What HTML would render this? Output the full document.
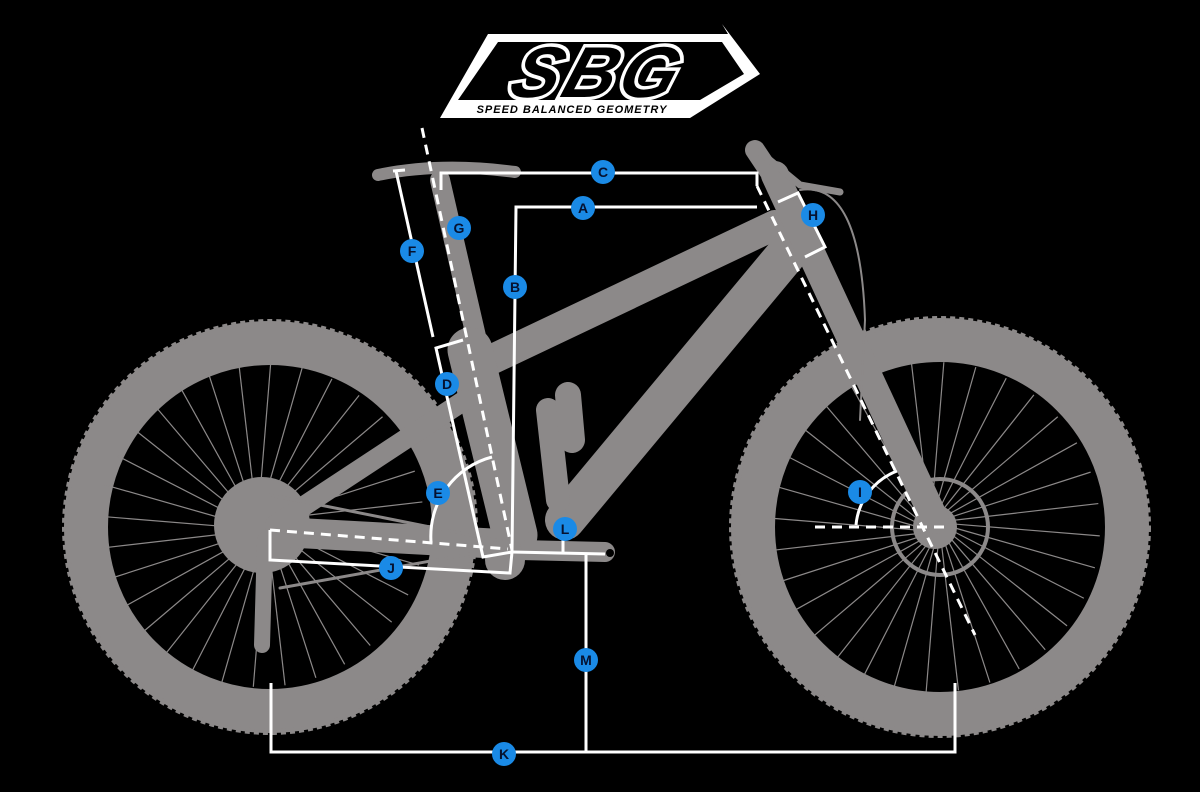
<!DOCTYPE html>
<html><head><meta charset="utf-8"><style>
html,body{margin:0;padding:0;background:#000;}
svg{display:block}
</style></head><body>
<svg id="s" width="1200" height="792" viewBox="0 0 1200 792" xmlns="http://www.w3.org/2000/svg">
<rect width="1200" height="792" fill="#000"/>
<!-- logo -->
<polygon points="488,34 728,34 722,24 760,74 690,118 440,118" fill="#fff"/>
<polygon points="498,42 722,42 744,74 700,100 458,100" fill="#000"/>
<text x="594" y="97" text-anchor="middle" font-family="Liberation Sans, sans-serif" font-weight="bold" font-style="italic" font-size="72" fill="#000" stroke="#fff" stroke-width="7" paint-order="stroke" letter-spacing="4" transform="skewX(-18) translate(28,0)">SBG</text>
<text x="572" y="113" text-anchor="middle" font-family="Liberation Sans, sans-serif" font-weight="bold" font-style="italic" font-size="11" fill="#000" letter-spacing="1">SPEED BALANCED GEOMETRY</text>

<g id="bike" fill="#8c8989" stroke="#8c8989">
 <circle cx="270" cy="527" r="184" fill="none" stroke-width="44"/>
 <circle cx="270" cy="527" r="205" fill="none" stroke-width="6" stroke-dasharray="5 4"/>
 <circle cx="940" cy="527" r="187" fill="none" stroke-width="44"/>
 <circle cx="940" cy="527" r="208" fill="none" stroke-width="6" stroke-dasharray="5 4"/>
 <g id="spk" stroke-width="1.2" fill="none"></g>
 <circle cx="262" cy="525" r="48" stroke="none"/>
 <circle cx="940" cy="527" r="48" fill="none" stroke-width="4"/>
 <circle cx="935" cy="527" r="22" stroke="none"/>
 <g stroke-linecap="round" fill="none">
  <line x1="480" y1="365" x2="775" y2="225" stroke-width="30"/>
  <line x1="790" y1="250" x2="565" y2="520" stroke-width="40"/>
  <line x1="440" y1="180" x2="478" y2="345" stroke-width="20"/>
  <line x1="470" y1="350" x2="515" y2="535" stroke-width="45"/>
  <line x1="280" y1="532" x2="520" y2="545" stroke-width="30"/>
  <line x1="275" y1="525" x2="465" y2="400" stroke-width="20"/>
  <line x1="548" y1="410" x2="558" y2="500" stroke-width="24"/>
  <line x1="568" y1="395" x2="572" y2="440" stroke-width="26"/>
  <line x1="520" y1="550" x2="605" y2="552" stroke-width="20"/>
  <line x1="775" y1="175" x2="935" y2="520" stroke-width="28"/>
  <line x1="755" y1="150" x2="785" y2="195" stroke-width="20"/>
  <path d="M760 152 L800 185 L840 192" stroke-width="7"/>
  <path d="M800 190 Q860 180 865 320 L860 420" stroke-width="2"/>
  <path d="M378 175 Q440 162 515 172" stroke-width="12"/>
  <line x1="265" y1="540" x2="262" y2="645" stroke-width="16"/>
  <path d="M270 495 L520 545 L280 588" stroke-width="3"/>
 </g>
 <circle cx="505" cy="560" r="20" stroke="none"/>
</g>

<g stroke="#fff" stroke-width="3" fill="none">
 <polyline points="441,190 441,173 757,173 757,186"/>
 <polyline points="757,207 516,207 512,552"/>
 <polyline points="393,171 405,170"/>
 <line x1="396" y1="171" x2="433" y2="337"/>
 <polyline points="463,340 436,348 483,557 512,552"/>
 <polyline points="512,552 510,573 270,560 270,530"/>
 <line x1="512" y1="552" x2="605" y2="554"/>
 <line x1="563" y1="540" x2="563" y2="553"/>
 <polyline points="586,554 586,752"/>
 <polyline points="271,683 271,752 955,752 955,683"/>
 <polyline points="778,202 798,193 825,247 805,257"/>
 <path d="M431 542 A82 82 0 0 1 492 457"/>
 <path d="M856 525 A64 64 0 0 1 897 471"/>
 <g stroke-dasharray="10 7">
  <line x1="422" y1="128" x2="512" y2="550"/>
  <line x1="757" y1="186" x2="975" y2="635"/>
  <line x1="270" y1="530" x2="508" y2="549"/>
  <line x1="815" y1="527" x2="945" y2="527"/>
 </g>
</g>
<circle cx="610" cy="553" r="4" fill="#000"/>

<g font-family="Liberation Sans, sans-serif" font-weight="bold" font-size="14" text-anchor="middle" fill="#061230">
 <g id="lbl"></g>
</g>
<script>
var ns="http://www.w3.org/2000/svg";
var spk=document.getElementById("spk");
[[262,525,162],[935,527,165]].forEach(function(w){
 for(var i=0;i<32;i++){var a=i*Math.PI*2/32+0.05,l=document.createElementNS(ns,"line");
 l.setAttribute("x1",w[0]+Math.cos(a)*20);l.setAttribute("y1",w[1]+Math.sin(a)*20);
 l.setAttribute("x2",w[0]+Math.cos(a+0.2)*w[2]);l.setAttribute("y2",w[1]+Math.sin(a+0.2)*w[2]);spk.appendChild(l);}
});
var L=[["C",603,172],["A",583,208],["H",813,215],["G",459,228],["F",412,251],["B",515,287],["D",447,384],["E",438,493],["I",860,492],["L",565,529],["J",391,568],["M",586,660],["K",504,754]];
var g=document.getElementById("lbl");
L.forEach(function(p){var c=document.createElementNS(ns,"circle");c.setAttribute("cx",p[1]);c.setAttribute("cy",p[2]);c.setAttribute("r",12);c.setAttribute("fill","#1a8ae6");g.appendChild(c);
var t=document.createElementNS(ns,"text");t.setAttribute("x",p[1]);t.setAttribute("y",p[2]+5);t.textContent=p[0];g.appendChild(t);});
</script>
</svg>
</body></html>
